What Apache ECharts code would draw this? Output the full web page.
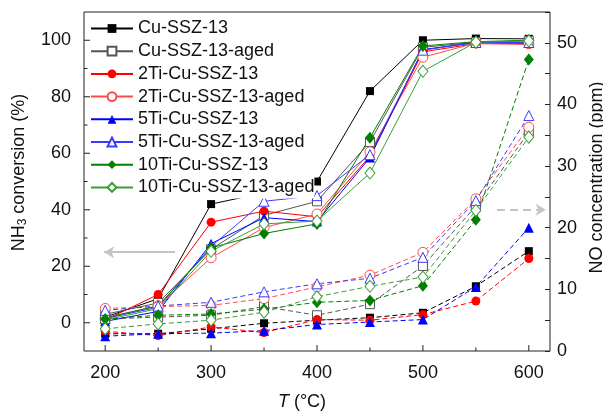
<!DOCTYPE html>
<html>
<head>
<meta charset="utf-8">
<script src="https://cdn.jsdelivr.net/npm/echarts@6/dist/echarts.min.js"></script>
<style>
  html, body { margin: 0; padding: 0; background: #fff; }
  #chart { width: 603px; height: 414px; }
</style>
</head>
<body>
<div id="chart"></div>
<script>
// Reaction temperature (°C)
const temperatures = [200, 250, 300, 350, 400, 450, 500, 550, 600];

// Sample names
const sampleNames = [
  'Cu-SSZ-13', 'Cu-SSZ-13-aged',
  '2Ti-Cu-SSZ-13', '2Ti-Cu-SSZ-13-aged',
  '5Ti-Cu-SSZ-13', '5Ti-Cu-SSZ-13-aged',
  '10Ti-Cu-SSZ-13', '10Ti-Cu-SSZ-13-aged'
];

// NH3 conversion (%), left axis
const nh3Cu        = [2.0, 8.5, 42.0, 46.0, 50.0, 82.0, 100.0, 100.6, 100.5];
const nh3CuAged    = [3.0, 7.0, 26.0, 38.0, 43.0, 64.0, 97.5, 99.3, 99.8];
const nh3Ti2       = [1.0, 10.0, 35.6, 39.5, 37.5, 59.0, 95.9, 98.8, 98.6];
const nh3Ti2Aged   = [1.5, 6.0, 23.0, 33.7, 38.5, 60.5, 94.0, 99.0, 98.8];
const nh3Ti5       = [0.5, 4.0, 28.0, 37.2, 35.8, 58.5, 96.7, 99.2, 99.0];
const nh3Ti5Aged   = [1.5, 5.5, 27.0, 43.0, 45.0, 59.5, 96.5, 99.2, 99.2];
const nh3Ti10      = [1.8, 6.0, 26.5, 31.6, 35.0, 65.5, 98.0, 99.5, 100.0];
const nh3Ti10Aged  = [1.0, 5.0, 25.3, 35.0, 36.0, 53.0, 89.0, 99.3, 99.8];

// NO concentration (ppm), right axis
const noCu         = [2.8, 2.8, 3.6, 4.5, 5.0, 5.4, 6.2, 10.5, 16.2];
const noCuAged     = [5.2, 5.5, 5.8, 7.2, 5.8, 7.6, 13.8, 23.5, 35.5];
const noTi2        = [3.2, 2.5, 3.9, 3.0, 5.1, 5.0, 5.9, 8.1, 15.0];
const noTi2Aged    = [6.9, 7.2, 7.4, 8.5, 10.4, 12.3, 16.0, 24.7, 36.3];
const noTi5        = [2.4, 2.8, 2.9, 3.3, 4.3, 4.7, 5.1, 10.4, 20.0];
const noTi5Aged    = [6.6, 7.3, 7.9, 9.6, 10.9, 11.8, 15.2, 24.4, 38.2];
const noTi10       = [5.2, 5.8, 6.0, 6.8, 7.9, 8.2, 10.6, 21.3, 47.3];
const noTi10Aged   = [3.6, 4.4, 5.0, 6.3, 8.8, 10.5, 12.0, 22.8, 34.7];

// Axis ranges and tick positions
const xMin = 180, xMax = 620;
const nh3Min = -10, nh3Max = 110;
const noMin = 0, noMax = 55;
const xMajorTicks = [200, 300, 400, 500, 600];
const xMinorTicks = [250, 350, 450, 550];
const nh3MajorTicks = [0, 20, 40, 60, 80, 100];
const nh3MinorTicks = [10, 30, 50, 70, 90];

const FONT = '"Liberation Sans", Arial, sans-serif';

// Per-sample look: line colour, marker shape, marker size, hollow or filled
const looks = [
  { color: '#000000', symbol: 'rect',     size: 8,        hollow: false },
  { color: '#555555', symbol: 'rect',     size: 9,        hollow: true  },
  { color: '#ff0000', symbol: 'circle',   size: 9,        hollow: false },
  { color: '#ff4a4a', symbol: 'circle',   size: 10,       hollow: true  },
  { color: '#0000ff', symbol: 'triangle', size: 10,       hollow: false },
  { color: '#3a3aff', symbol: 'triangle', size: 10,       hollow: true  },
  { color: '#008000', symbol: 'diamond',  size: [10, 12], hollow: false },
  { color: '#3a9e3a', symbol: 'diamond',  size: [10, 12], hollow: true  }
];

const nh3Data = [nh3Cu, nh3CuAged, nh3Ti2, nh3Ti2Aged, nh3Ti5, nh3Ti5Aged, nh3Ti10, nh3Ti10Aged];
const noData  = [noCu, noCuAged, noTi2, noTi2Aged, noTi5, noTi5Aged, noTi10, noTi10Aged];

function pairs(values) {
  return temperatures.map((t, i) => [t, values[i]]);
}

function makeSeries(i, values, dashed) {
  const look = looks[i];
  return {
    name: sampleNames[i],
    type: 'line',
    yAxisIndex: dashed ? 1 : 0,
    data: pairs(values),
    symbol: look.symbol,
    symbolSize: look.size,
    showAllSymbol: true,
    silent: true,
    animation: false,
    lineStyle: { color: look.color, width: 1, type: dashed ? [5, 3] : 'solid' },
    itemStyle: look.hollow
      ? { color: '#ffffff', borderColor: look.color, borderWidth: 1 }
      : { color: look.color, borderColor: look.color, borderWidth: 0 },
    emphasis: { disabled: true },
    z: 2
  };
}

// Solid NH3 curves first (the legend takes its icons from them), then dashed NO curves
const series = [];
for (let i = 0; i < 8; i++) series.push(makeSeries(i, nh3Data[i], false));
for (let i = 0; i < 8; i++) series.push(makeSeries(i, noData[i], true));

// Arrow pointing to the left axis (NH3 curves)
series[0].markLine = {
  silent: true,
  animation: false,
  symbol: ['none', 'arrow'],
  symbolSize: [9, 10],
  label: { show: false },
  lineStyle: { color: '#c4c4c4', width: 2, type: 'solid' },
  data: [[{ coord: [266, 25] }, { coord: [199, 25] }]]
};
// Arrow pointing to the right axis (NO curves)
series[8].markLine = {
  silent: true,
  animation: false,
  symbol: ['none', 'arrow'],
  symbolSize: [9, 10],
  label: { show: false },
  lineStyle: { color: '#c4c4c4', width: 2, type: [8, 5] },
  data: [[{ coord: [570, 22.9] }, { coord: [616, 22.9] }]]
};

// Major / minor tick marks of the bottom and left axes, drawn inward
const tickData = []
  .concat(xMajorTicks.map(v => [0, v, 1]))
  .concat(xMinorTicks.map(v => [0, v, 0]))
  .concat(nh3MajorTicks.map(v => [1, v, 1]))
  .concat(nh3MinorTicks.map(v => [1, v, 0]));

series.push({
  type: 'custom',
  name: 'ticks',
  silent: true,
  animation: false,
  xAxisIndex: 0,
  yAxisIndex: 0,
  z: 5,
  data: tickData,
  encode: { x: 1, y: 1 },
  renderItem: function (params, api) {
    const kind = api.value(0);
    const v = api.value(1);
    const len = api.value(2) ? 6 : 3.5;
    let p, q;
    if (kind === 0) {
      p = api.coord([v, nh3Min]);
      q = [p[0], p[1] - len];
    } else {
      p = api.coord([xMin, v]);
      q = [p[0] + len, p[1]];
    }
    return {
      type: 'line',
      shape: { x1: p[0], y1: p[1], x2: q[0], y2: q[1] },
      style: { stroke: '#222', lineWidth: 1 }
    };
  }
});

const option = {
  backgroundColor: '#ffffff',
  animation: false,
  grid: {
    left: 84, right: 53, top: 12, bottom: 63,
    containLabel: false,
    outerBoundsMode: 'none',
    show: true, borderColor: '#222', borderWidth: 1, backgroundColor: 'transparent'
  },
  legend: {
    data: sampleNames,
    orient: 'vertical',
    left: 90,
    top: 19.5,
    padding: [0, 0, 2, 0],
    backgroundColor: '#ffffff',
    itemWidth: 42,
    itemHeight: 11,
    itemGap: 4.7,
    selectedMode: false,
    textStyle: { fontFamily: FONT, fontSize: 18, lineHeight: 18, color: '#111' }
  },
  xAxis: {
    type: 'value',
    min: xMin, max: xMax, interval: 20,
    axisLine: { show: false },
    axisTick: { show: false },
    splitLine: { show: false },
    axisLabel: {
      margin: 13,
      fontFamily: FONT, fontSize: 18, color: '#111',
      formatter: v => (v % 100 === 0 && v >= 200 && v <= 600) ? String(v) : ''
    },
    name: '{it|T} (°C)',
    nameLocation: 'middle',
    nameGap: 42,
    nameTextStyle: {
      fontFamily: FONT, fontSize: 18, color: '#111',
      padding: [0, 30, 0, 0],
      rich: { it: { fontFamily: FONT, fontSize: 18, fontStyle: 'italic', color: '#111' } }
    }
  },
  yAxis: [
    {
      type: 'value',
      position: 'left',
      min: nh3Min, max: nh3Max, interval: 10,
      axisLine: { show: false },
      axisTick: { show: false },
      splitLine: { show: false },
      axisLabel: {
        margin: 13,
        fontFamily: FONT, fontSize: 18, color: '#111',
        formatter: v => (v % 20 === 0 && v >= 0 && v <= 100) ? String(v) : ''
      },
      name: 'NH{sub|3} conversion (%)',
      nameLocation: 'middle',
      nameGap: 55,
      nameTextStyle: {
        fontFamily: FONT, fontSize: 18, color: '#111',
        padding: [0, 0, 0, 18],
        rich: { sub: { fontFamily: FONT, fontSize: 12, color: '#111', verticalAlign: 'bottom', padding: [8, 0, 0, 0] } }
      }
    },
    {
      type: 'value',
      position: 'right',
      min: noMin, max: noMax, interval: 5,
      axisLine: { show: false },
      axisTick: { show: true, inside: true, length: 5, lineStyle: { color: '#222', width: 1 } },
      splitLine: { show: false },
      axisLabel: {
        margin: 7,
        fontFamily: FONT, fontSize: 18, color: '#111',
        formatter: v => (v % 10 === 0 && v <= 50) ? String(v) : ''
      },
      name: 'NO concentration (ppm)',
      nameLocation: 'middle',
      nameGap: 34,
      nameTextStyle: {
        fontFamily: FONT, fontSize: 18, color: '#111',
        padding: [0, 0, 0, 8]
      }
    }
  ],
  series: series
};

const chart = echarts.init(document.getElementById('chart'), null, { renderer: 'canvas' });
chart.setOption(option);
</script>
</body>
</html>
